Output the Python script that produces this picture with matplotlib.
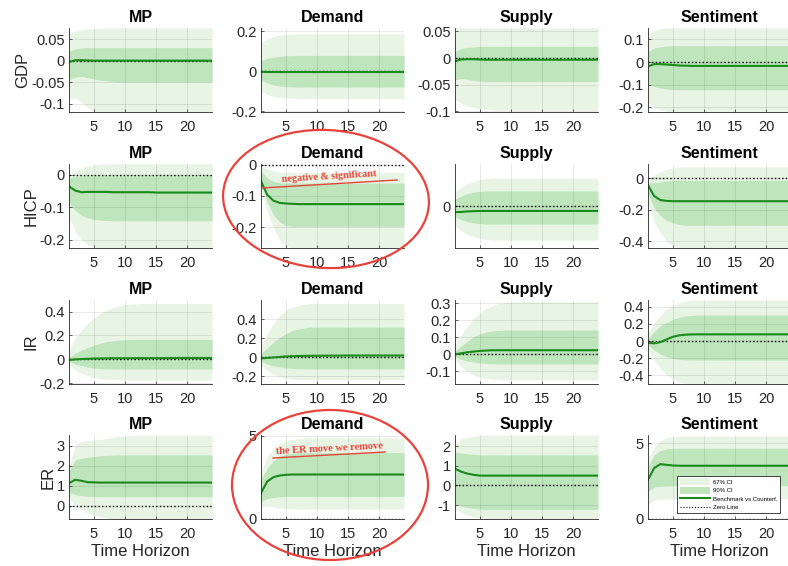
import matplotlib
matplotlib.use("Agg")
import matplotlib.pyplot as plt
from matplotlib.patches import Ellipse, Patch
from matplotlib.lines import Line2D

plt.rcParams['font.family'] = ['Liberation Sans', 'DejaVu Sans']
plt.rcParams['axes.unicode_minus'] = False

horizon = list(range(1, 25))
variables = ['GDP', 'HICP', 'IR', 'ER']
shocks = ['MP', 'Demand', 'Supply', 'Sentiment']

# Each block: [benchmark-vs-counterfactual, inner lower, inner upper, outer lower, outer upper]
gdp_mp = [
    [-0.003, 0.001, 0.001, 0.0005, 0.0, 0.0, 0.0, 0.0, 0.0, 0.0, 0.0, 0.0,
     0.0, 0.0, 0.0, 0.0, 0.0, 0.0, 0.0, 0.0, 0.0, 0.0, 0.0, 0.0],
    [-0.044, -0.038, -0.036, -0.039, -0.042, -0.045, -0.047, -0.048, -0.049, -0.049, -0.049, -0.049,
     -0.049, -0.049, -0.049, -0.049, -0.049, -0.049, -0.049, -0.049, -0.049, -0.049, -0.049, -0.049],
    [0.022, 0.027, 0.029, 0.030, 0.030, 0.030, 0.030, 0.030, 0.030, 0.030, 0.030, 0.030,
     0.030, 0.030, 0.030, 0.030, 0.030, 0.030, 0.030, 0.030, 0.030, 0.030, 0.030, 0.030],
    [-0.089, -0.086, -0.095, -0.108, -0.117, -0.119, -0.119, -0.119, -0.119, -0.119, -0.119, -0.119,
     -0.119, -0.119, -0.119, -0.119, -0.119, -0.119, -0.119, -0.119, -0.119, -0.119, -0.119, -0.119],
    [0.064, 0.068, 0.071, 0.073, 0.074, 0.075, 0.076, 0.076, 0.076, 0.076, 0.076, 0.076,
     0.076, 0.076, 0.076, 0.076, 0.076, 0.076, 0.076, 0.076, 0.076, 0.076, 0.076, 0.076],
]
gdp_demand = [
    [-0.002, -0.003, -0.003, -0.003, -0.003, -0.003, -0.003, -0.003, -0.003, -0.003, -0.003, -0.003,
     -0.003, -0.003, -0.003, -0.003, -0.003, -0.003, -0.003, -0.003, -0.003, -0.003, -0.003, -0.003],
    [-0.042, -0.058, -0.068, -0.073, -0.076, -0.077, -0.078, -0.078, -0.078, -0.078, -0.078, -0.078,
     -0.078, -0.078, -0.078, -0.078, -0.078, -0.078, -0.078, -0.078, -0.078, -0.078, -0.078, -0.078],
    [0.053, 0.065, 0.072, 0.076, 0.078, 0.079, 0.080, 0.080, 0.080, 0.080, 0.080, 0.080,
     0.080, 0.080, 0.080, 0.080, 0.080, 0.080, 0.080, 0.080, 0.080, 0.080, 0.080, 0.080],
    [-0.100, -0.115, -0.125, -0.130, -0.133, -0.135, -0.136, -0.136, -0.136, -0.136, -0.136, -0.136,
     -0.136, -0.136, -0.136, -0.136, -0.136, -0.136, -0.136, -0.136, -0.136, -0.136, -0.136, -0.136],
    [0.145, 0.163, 0.175, 0.182, 0.186, 0.187, 0.188, 0.188, 0.188, 0.188, 0.188, 0.188,
     0.188, 0.188, 0.188, 0.188, 0.188, 0.188, 0.188, 0.188, 0.188, 0.188, 0.188, 0.188],
]
gdp_supply = [
    [-0.006, -0.0025, -0.002, -0.002, -0.0025, -0.003, -0.003, -0.003, -0.003, -0.003, -0.003, -0.003,
     -0.003, -0.003, -0.003, -0.003, -0.003, -0.003, -0.003, -0.003, -0.003, -0.003, -0.003, -0.003],
    [-0.041, -0.038, -0.040, -0.042, -0.043, -0.044, -0.044, -0.044, -0.044, -0.044, -0.044, -0.044,
     -0.044, -0.044, -0.044, -0.044, -0.044, -0.044, -0.044, -0.044, -0.044, -0.044, -0.044, -0.044],
    [0.0125, 0.018, 0.020, 0.021, 0.022, 0.022, 0.022, 0.022, 0.022, 0.022, 0.022, 0.022,
     0.022, 0.022, 0.022, 0.022, 0.022, 0.022, 0.022, 0.022, 0.022, 0.022, 0.022, 0.022],
    [-0.078, -0.085, -0.090, -0.093, -0.095, -0.096, -0.097, -0.098, -0.098, -0.098, -0.098, -0.098,
     -0.098, -0.098, -0.098, -0.098, -0.098, -0.098, -0.098, -0.098, -0.098, -0.098, -0.098, -0.098],
    [0.057, 0.057, 0.057, 0.057, 0.057, 0.057, 0.057, 0.057, 0.057, 0.057, 0.057, 0.057,
     0.057, 0.057, 0.057, 0.057, 0.057, 0.057, 0.057, 0.057, 0.057, 0.057, 0.057, 0.057],
]
gdp_sentiment = [
    [-0.019, -0.009, -0.009, -0.011, -0.013, -0.015, -0.016, -0.017, -0.017, -0.017, -0.017, -0.017,
     -0.017, -0.017, -0.017, -0.017, -0.017, -0.017, -0.017, -0.017, -0.017, -0.017, -0.017, -0.017],
    [-0.093, -0.108, -0.115, -0.119, -0.121, -0.122, -0.122, -0.122, -0.122, -0.122, -0.122, -0.122,
     -0.122, -0.122, -0.122, -0.122, -0.122, -0.122, -0.122, -0.122, -0.122, -0.122, -0.122, -0.122],
    [0.047, 0.062, 0.068, 0.071, 0.072, 0.072, 0.072, 0.072, 0.072, 0.072, 0.072, 0.072,
     0.072, 0.072, 0.072, 0.072, 0.072, 0.072, 0.072, 0.072, 0.072, 0.072, 0.072, 0.072],
    [-0.181, -0.200, -0.210, -0.218, -0.221, -0.221, -0.221, -0.221, -0.221, -0.221, -0.221, -0.221,
     -0.221, -0.221, -0.221, -0.221, -0.221, -0.221, -0.221, -0.221, -0.221, -0.221, -0.221, -0.221],
    [0.128, 0.140, 0.147, 0.151, 0.151, 0.151, 0.151, 0.151, 0.151, 0.151, 0.151, 0.151,
     0.151, 0.151, 0.151, 0.151, 0.151, 0.151, 0.151, 0.151, 0.151, 0.151, 0.151, 0.151],
]
hicp_mp = [
    [-0.036, -0.049, -0.054, -0.053, -0.053, -0.053, -0.053, -0.054, -0.054, -0.054, -0.054, -0.054,
     -0.054, -0.054, -0.055, -0.055, -0.055, -0.055, -0.055, -0.055, -0.055, -0.055, -0.055, -0.055],
    [-0.087, -0.110, -0.125, -0.133, -0.138, -0.140, -0.141, -0.142, -0.142, -0.142, -0.142, -0.142,
     -0.142, -0.142, -0.142, -0.142, -0.142, -0.142, -0.142, -0.142, -0.142, -0.142, -0.142, -0.142],
    [-0.010, -0.005, -0.003, -0.002, -0.001, -0.001, -0.001, -0.001, -0.001, -0.001, -0.001, -0.001,
     -0.001, -0.001, -0.001, -0.001, -0.001, -0.001, -0.001, -0.001, -0.001, -0.001, -0.001, -0.001],
    [-0.133, -0.175, -0.200, -0.215, -0.222, -0.227, -0.227, -0.227, -0.227, -0.227, -0.227, -0.227,
     -0.227, -0.227, -0.227, -0.227, -0.227, -0.227, -0.227, -0.227, -0.227, -0.227, -0.227, -0.227],
    [-0.008, 0.010, 0.020, 0.026, 0.030, 0.032, 0.034, 0.034, 0.034, 0.034, 0.034, 0.034,
     0.034, 0.034, 0.034, 0.034, 0.034, 0.034, 0.034, 0.034, 0.034, 0.034, 0.034, 0.034],
]
hicp_demand = [
    [-0.053, -0.096, -0.115, -0.122, -0.124, -0.125, -0.126, -0.126, -0.126, -0.126, -0.126, -0.126,
     -0.126, -0.126, -0.126, -0.126, -0.126, -0.126, -0.126, -0.126, -0.126, -0.126, -0.126, -0.126],
    [-0.064, -0.117, -0.160, -0.183, -0.194, -0.197, -0.197, -0.197, -0.197, -0.197, -0.197, -0.197,
     -0.197, -0.197, -0.197, -0.197, -0.197, -0.197, -0.197, -0.197, -0.197, -0.197, -0.197, -0.197],
    [-0.021, -0.043, -0.053, -0.058, -0.059, -0.059, -0.059, -0.059, -0.059, -0.059, -0.059, -0.059,
     -0.059, -0.059, -0.059, -0.059, -0.059, -0.059, -0.059, -0.059, -0.059, -0.059, -0.059, -0.059],
    [-0.070, -0.150, -0.202, -0.239, -0.260, -0.267, -0.267, -0.267, -0.267, -0.267, -0.267, -0.267,
     -0.267, -0.267, -0.267, -0.267, -0.267, -0.267, -0.267, -0.267, -0.267, -0.267, -0.267, -0.267],
    [-0.005, -0.013, -0.019, -0.023, -0.024, -0.025, -0.025, -0.025, -0.025, -0.025, -0.025, -0.025,
     -0.025, -0.025, -0.025, -0.025, -0.025, -0.025, -0.025, -0.025, -0.025, -0.025, -0.025, -0.025],
]
hicp_supply = [
    [-0.025, -0.024, -0.022, -0.021, -0.020, -0.020, -0.020, -0.020, -0.020, -0.020, -0.020, -0.020,
     -0.020, -0.020, -0.020, -0.020, -0.020, -0.020, -0.020, -0.020, -0.020, -0.020, -0.020, -0.020],
    [-0.045, -0.055, -0.063, -0.068, -0.071, -0.073, -0.073, -0.073, -0.073, -0.073, -0.073, -0.073,
     -0.073, -0.073, -0.073, -0.073, -0.073, -0.073, -0.073, -0.073, -0.073, -0.073, -0.073, -0.073],
    [0.028, 0.040, 0.050, 0.056, 0.060, 0.061, 0.061, 0.061, 0.061, 0.061, 0.061, 0.061,
     0.061, 0.061, 0.061, 0.061, 0.061, 0.061, 0.061, 0.061, 0.061, 0.061, 0.061, 0.061],
    [-0.081, -0.100, -0.115, -0.125, -0.130, -0.135, -0.138, -0.138, -0.138, -0.138, -0.138, -0.138,
     -0.138, -0.138, -0.138, -0.138, -0.138, -0.138, -0.138, -0.138, -0.138, -0.138, -0.138, -0.138],
    [0.057, 0.075, 0.090, 0.100, 0.107, 0.111, 0.113, 0.113, 0.113, 0.113, 0.113, 0.113,
     0.113, 0.113, 0.113, 0.113, 0.113, 0.113, 0.113, 0.113, 0.113, 0.113, 0.113, 0.113],
]
hicp_sentiment = [
    [-0.045, -0.115, -0.140, -0.145, -0.147, -0.147, -0.147, -0.147, -0.147, -0.147, -0.147, -0.147,
     -0.147, -0.147, -0.147, -0.147, -0.147, -0.147, -0.147, -0.147, -0.147, -0.147, -0.147, -0.147],
    [-0.100, -0.190, -0.240, -0.270, -0.285, -0.295, -0.300, -0.300, -0.300, -0.300, -0.300, -0.300,
     -0.300, -0.300, -0.300, -0.300, -0.300, -0.300, -0.300, -0.300, -0.300, -0.300, -0.300, -0.300],
    [-0.030, -0.030, -0.025, -0.020, -0.017, -0.015, -0.015, -0.015, -0.015, -0.015, -0.015, -0.015,
     -0.015, -0.015, -0.015, -0.015, -0.015, -0.015, -0.015, -0.015, -0.015, -0.015, -0.015, -0.015],
    [-0.170, -0.280, -0.350, -0.400, -0.430, -0.445, -0.445, -0.445, -0.445, -0.445, -0.445, -0.445,
     -0.445, -0.445, -0.445, -0.445, -0.445, -0.445, -0.445, -0.445, -0.445, -0.445, -0.445, -0.445],
    [-0.005, 0.020, 0.040, 0.055, 0.065, 0.070, 0.070, 0.070, 0.070, 0.070, 0.070, 0.070,
     0.070, 0.070, 0.070, 0.070, 0.070, 0.070, 0.070, 0.070, 0.070, 0.070, 0.070, 0.070],
]
ir_mp = [
    [-0.005, 0.000, 0.003, 0.005, 0.007, 0.008, 0.009, 0.010, 0.010, 0.010, 0.010, 0.011,
     0.011, 0.011, 0.011, 0.011, 0.011, 0.012, 0.012, 0.012, 0.012, 0.012, 0.012, 0.012],
    [-0.017, -0.039, -0.053, -0.064, -0.072, -0.078, -0.080, -0.081, -0.081, -0.081, -0.081, -0.081,
     -0.081, -0.081, -0.081, -0.081, -0.081, -0.081, -0.081, -0.081, -0.081, -0.081, -0.081, -0.081],
    [0.017, 0.050, 0.078, 0.098, 0.120, 0.134, 0.148, 0.156, 0.162, 0.165, 0.167, 0.167,
     0.167, 0.167, 0.167, 0.167, 0.167, 0.167, 0.167, 0.167, 0.167, 0.167, 0.167, 0.167],
    [-0.047, -0.089, -0.117, -0.137, -0.150, -0.162, -0.167, -0.170, -0.172, -0.173, -0.173, -0.173,
     -0.173, -0.173, -0.173, -0.173, -0.173, -0.173, -0.173, -0.173, -0.173, -0.173, -0.173, -0.173],
    [0.078, 0.176, 0.245, 0.300, 0.349, 0.385, 0.413, 0.432, 0.446, 0.457, 0.463, 0.466,
     0.469, 0.469, 0.469, 0.469, 0.469, 0.469, 0.469, 0.469, 0.469, 0.469, 0.469, 0.469],
]
ir_demand = [
    [-0.010, -0.005, 0.000, 0.005, 0.010, 0.013, 0.015, 0.016, 0.017, 0.018, 0.018, 0.019,
     0.019, 0.019, 0.020, 0.020, 0.020, 0.020, 0.020, 0.020, 0.020, 0.020, 0.020, 0.020],
    [-0.040, -0.070, -0.090, -0.100, -0.110, -0.115, -0.120, -0.120, -0.120, -0.120, -0.120, -0.120,
     -0.120, -0.120, -0.120, -0.120, -0.120, -0.120, -0.120, -0.120, -0.120, -0.120, -0.120, -0.120],
    [0.040, 0.100, 0.160, 0.210, 0.250, 0.280, 0.300, 0.310, 0.320, 0.320, 0.320, 0.320,
     0.320, 0.320, 0.320, 0.320, 0.320, 0.320, 0.320, 0.320, 0.320, 0.320, 0.320, 0.320],
    [-0.080, -0.140, -0.180, -0.200, -0.220, -0.230, -0.235, -0.235, -0.235, -0.235, -0.235, -0.235,
     -0.235, -0.235, -0.235, -0.235, -0.235, -0.235, -0.235, -0.235, -0.235, -0.235, -0.235, -0.235],
    [0.120, 0.250, 0.360, 0.440, 0.500, 0.530, 0.550, 0.560, 0.570, 0.570, 0.570, 0.570,
     0.570, 0.570, 0.570, 0.570, 0.570, 0.570, 0.570, 0.570, 0.570, 0.570, 0.570, 0.570],
]
ir_supply = [
    [0.000, 0.006, 0.012, 0.016, 0.020, 0.022, 0.024, 0.024, 0.024, 0.024, 0.024, 0.024,
     0.024, 0.024, 0.024, 0.024, 0.024, 0.024, 0.024, 0.024, 0.024, 0.024, 0.024, 0.024],
    [-0.014, -0.029, -0.039, -0.045, -0.051, -0.054, -0.056, -0.057, -0.057, -0.057, -0.057, -0.057,
     -0.057, -0.057, -0.057, -0.057, -0.057, -0.057, -0.057, -0.057, -0.057, -0.057, -0.057, -0.057],
    [0.020, 0.049, 0.078, 0.104, 0.120, 0.131, 0.137, 0.141, 0.143, 0.143, 0.143, 0.143,
     0.143, 0.143, 0.143, 0.143, 0.143, 0.143, 0.143, 0.143, 0.143, 0.143, 0.143, 0.143],
    [-0.029, -0.073, -0.102, -0.122, -0.135, -0.143, -0.147, -0.150, -0.151, -0.151, -0.151, -0.151,
     -0.151, -0.151, -0.151, -0.151, -0.151, -0.151, -0.151, -0.151, -0.151, -0.151, -0.151, -0.151],
    [0.055, 0.114, 0.167, 0.212, 0.245, 0.270, 0.286, 0.298, 0.304, 0.308, 0.308, 0.308,
     0.308, 0.308, 0.308, 0.308, 0.308, 0.308, 0.308, 0.308, 0.308, 0.308, 0.308, 0.308],
]
ir_sentiment = [
    [-0.019, -0.027, -0.012, 0.019, 0.050, 0.066, 0.074, 0.077, 0.078, 0.078, 0.078, 0.078,
     0.078, 0.078, 0.078, 0.078, 0.078, 0.078, 0.078, 0.078, 0.078, 0.078, 0.078, 0.078],
    [-0.047, -0.105, -0.151, -0.183, -0.202, -0.214, -0.219, -0.221, -0.221, -0.221, -0.221, -0.221,
     -0.221, -0.221, -0.221, -0.221, -0.221, -0.221, -0.221, -0.221, -0.221, -0.221, -0.221, -0.221],
    [0.031, 0.109, 0.175, 0.217, 0.252, 0.276, 0.291, 0.300, 0.303, 0.303, 0.303, 0.303,
     0.303, 0.303, 0.303, 0.303, 0.303, 0.303, 0.303, 0.303, 0.303, 0.303, 0.303, 0.303],
    [-0.105, -0.221, -0.318, -0.396, -0.447, -0.478, -0.495, -0.500, -0.500, -0.500, -0.500, -0.500,
     -0.500, -0.500, -0.500, -0.500, -0.500, -0.500, -0.500, -0.500, -0.500, -0.500, -0.500, -0.500],
    [0.089, 0.206, 0.303, 0.373, 0.419, 0.450, 0.466, 0.475, 0.478, 0.478, 0.478, 0.478,
     0.478, 0.478, 0.478, 0.478, 0.478, 0.478, 0.478, 0.478, 0.478, 0.478, 0.478, 0.478],
]
er_mp = [
    [1.13, 1.30, 1.25, 1.18, 1.17, 1.16, 1.16, 1.16, 1.16, 1.16, 1.16, 1.16,
     1.16, 1.16, 1.16, 1.16, 1.16, 1.16, 1.16, 1.16, 1.16, 1.16, 1.16, 1.16],
    [0.67, 0.55, 0.50, 0.47, 0.46, 0.45, 0.45, 0.45, 0.45, 0.45, 0.45, 0.45,
     0.45, 0.45, 0.45, 0.45, 0.45, 0.45, 0.45, 0.45, 0.45, 0.45, 0.45, 0.45],
    [1.72, 2.30, 2.38, 2.43, 2.47, 2.50, 2.52, 2.54, 2.55, 2.55, 2.55, 2.55,
     2.55, 2.55, 2.55, 2.55, 2.55, 2.55, 2.55, 2.55, 2.55, 2.55, 2.55, 2.55],
    [0.38, 0.00, -0.20, -0.37, -0.48, -0.57, -0.62, -0.66, -0.67, -0.67, -0.67, -0.67,
     -0.67, -0.67, -0.67, -0.67, -0.67, -0.67, -0.67, -0.67, -0.67, -0.67, -0.67, -0.67],
    [1.97, 3.05, 3.22, 3.27, 3.30, 3.33, 3.38, 3.43, 3.47, 3.50, 3.52, 3.54,
     3.54, 3.54, 3.54, 3.54, 3.54, 3.54, 3.54, 3.54, 3.54, 3.54, 3.54, 3.54],
]
er_demand = [
    [1.56, 2.26, 2.52, 2.62, 2.66, 2.68, 2.68, 2.68, 2.68, 2.68, 2.68, 2.68,
     2.68, 2.68, 2.68, 2.68, 2.68, 2.68, 2.68, 2.68, 2.68, 2.68, 2.68, 2.68],
    [1.06, 1.22, 1.30, 1.34, 1.36, 1.36, 1.36, 1.36, 1.36, 1.36, 1.36, 1.36,
     1.36, 1.36, 1.36, 1.36, 1.36, 1.36, 1.36, 1.36, 1.36, 1.36, 1.36, 1.36],
    [2.36, 3.06, 3.50, 3.76, 3.90, 3.96, 4.00, 4.00, 4.00, 4.00, 4.00, 4.00,
     4.00, 4.00, 4.00, 4.00, 4.00, 4.00, 4.00, 4.00, 4.00, 4.00, 4.00, 4.00],
    [0.72, 0.76, 0.72, 0.66, 0.62, 0.60, 0.60, 0.60, 0.60, 0.60, 0.60, 0.60,
     0.60, 0.60, 0.60, 0.60, 0.60, 0.60, 0.60, 0.60, 0.60, 0.60, 0.60, 0.60],
    [2.86, 3.76, 4.26, 4.56, 4.72, 4.80, 4.84, 4.88, 4.88, 4.88, 4.88, 4.88,
     4.88, 4.88, 4.88, 4.88, 4.88, 4.88, 4.88, 4.88, 4.88, 4.88, 4.88, 4.88],
]
er_supply = [
    [0.85, 0.70, 0.60, 0.54, 0.50, 0.50, 0.50, 0.50, 0.50, 0.50, 0.50, 0.50,
     0.50, 0.50, 0.50, 0.50, 0.50, 0.50, 0.50, 0.50, 0.50, 0.50, 0.50, 0.50],
    [-0.95, -1.05, -1.12, -1.17, -1.20, -1.22, -1.22, -1.22, -1.22, -1.22, -1.22, -1.22,
     -1.22, -1.22, -1.22, -1.22, -1.22, -1.22, -1.22, -1.22, -1.22, -1.22, -1.22, -1.22],
    [1.70, 1.65, 1.60, 1.58, 1.55, 1.55, 1.55, 1.55, 1.55, 1.55, 1.55, 1.55,
     1.55, 1.55, 1.55, 1.55, 1.55, 1.55, 1.55, 1.55, 1.55, 1.55, 1.55, 1.55],
    [-1.10, -1.35, -1.50, -1.60, -1.65, -1.70, -1.70, -1.70, -1.70, -1.70, -1.70, -1.70,
     -1.70, -1.70, -1.70, -1.70, -1.70, -1.70, -1.70, -1.70, -1.70, -1.70, -1.70, -1.70],
    [2.10, 2.35, 2.45, 2.50, 2.55, 2.55, 2.55, 2.55, 2.55, 2.55, 2.55, 2.55,
     2.55, 2.55, 2.55, 2.55, 2.55, 2.55, 2.55, 2.55, 2.55, 2.55, 2.55, 2.55],
]
er_sentiment = [
    [2.59, 3.36, 3.62, 3.57, 3.53, 3.51, 3.51, 3.51, 3.51, 3.51, 3.51, 3.51,
     3.51, 3.51, 3.51, 3.51, 3.51, 3.51, 3.51, 3.51, 3.51, 3.51, 3.51, 3.51],
    [1.82, 2.10, 2.15, 2.17, 2.19, 2.19, 2.19, 2.19, 2.19, 2.19, 2.19, 2.19,
     2.19, 2.19, 2.19, 2.19, 2.19, 2.19, 2.19, 2.19, 2.19, 2.19, 2.19, 2.19],
    [3.46, 4.23, 4.52, 4.63, 4.67, 4.67, 4.67, 4.67, 4.67, 4.67, 4.67, 4.67,
     4.67, 4.67, 4.67, 4.67, 4.67, 4.67, 4.67, 4.67, 4.67, 4.67, 4.67, 4.67],
    [0.94, 1.23, 1.27, 1.29, 1.31, 1.33, 1.34, 1.34, 1.34, 1.34, 1.34, 1.34,
     1.34, 1.34, 1.34, 1.34, 1.34, 1.34, 1.34, 1.34, 1.34, 1.34, 1.34, 1.34],
    [3.90, 4.78, 5.18, 5.37, 5.44, 5.48, 5.48, 5.48, 5.48, 5.48, 5.48, 5.48,
     5.48, 5.48, 5.48, 5.48, 5.48, 5.48, 5.48, 5.48, 5.48, 5.48, 5.48, 5.48],
]

irfs = [
    [gdp_mp, gdp_demand, gdp_supply, gdp_sentiment],
    [hicp_mp, hicp_demand, hicp_supply, hicp_sentiment],
    [ir_mp, ir_demand, ir_supply, ir_sentiment],
    [er_mp, er_demand, er_supply, er_sentiment],
]

y_ticks = [
    [[-0.1, -0.05, 0, 0.05], [-0.2, 0, 0.2], [-0.1, -0.05, 0, 0.05], [-0.2, -0.1, 0, 0.1]],
    [[-0.2, -0.1, 0], [-0.2, -0.1, 0], [0], [-0.4, -0.2, 0]],
    [[-0.2, 0, 0.2, 0.4], [-0.2, 0, 0.2, 0.4], [-0.1, 0, 0.1, 0.2, 0.3], [-0.4, -0.2, 0, 0.2, 0.4]],
    [[0, 1, 2, 3], [0, 5], [-1, 0, 1, 2], [0, 5]],
]
y_limits = [
    [(-0.1185, 0.0754), (-0.203, 0.217), (-0.101, 0.0565), (-0.22, 0.15)],
    [(-0.226, 0.033), (-0.266, 0.002), (-0.17, 0.17), (-0.444, 0.089)],
    [(-0.206, 0.497), (-0.28, 0.605), (-0.175, 0.32), (-0.50, 0.478)],
    [(-0.67, 3.55), (0.0, 5.06), (-1.7, 2.56), (-0.02, 5.55)],
]
x_ticks = [5, 10, 15, 20]

OUTER = '#e8f5e5'
INNER = '#bee5bc'
LINE = '#1a8a1a'
TXT = '#262626'
RED = '#e8433a'

W, H = 788, 566
fig = plt.figure(figsize=(W / 100, H / 100), dpi=100)

col_left = [69, 261, 455, 648]
row_top = [28, 164, 300, 435]
aw, ah = 143, 84

axes = {}
for i, var in enumerate(variables):
    for j, shock in enumerate(shocks):
        ax = fig.add_axes([col_left[j] / W, 1 - (row_top[i] + ah) / H, aw / W, ah / H])
        axes[(i, j)] = ax
        med, lo_in, hi_in, lo_out, hi_out = irfs[i][j]
        ax.fill_between(horizon, lo_out, hi_out, color=OUTER, lw=0, zorder=1)
        ax.fill_between(horizon, lo_in, hi_in, color=INNER, lw=0, zorder=2)
        ax.plot([horizon[0], horizon[-1]], [0, 0], color='black', ls=(0, (1, 1.6)), lw=1.0, zorder=4)
        ax.plot(horizon, med, color=LINE, lw=1.5, zorder=5)

        ax.set_xlim(1, 24)
        ax.set_ylim(*y_limits[i][j])
        ax.set_xticks(x_ticks)
        ax.set_xticklabels([f"{t:g}" for t in x_ticks])
        ax.set_yticks(y_ticks[i][j])
        ax.set_yticklabels([f"{t:g}" for t in y_ticks[i][j]])
        ax.grid(True, color='black', alpha=0.10, lw=0.6)
        ax.set_axisbelow(False)
        for s in ('top', 'right'):
            ax.spines[s].set_visible(False)
        for s in ('left', 'bottom'):
            ax.spines[s].set_color(TXT)
            ax.spines[s].set_linewidth(0.6)
            ax.spines[s].set_zorder(6)
        ax.tick_params(direction='in', length=2.5, width=0.5, colors=TXT,
                       labelsize=10.5, labelcolor=TXT)
        ax.tick_params(axis='x', pad=6)
        ax.tick_params(axis='y', pad=3)
        ax.set_title(shock, fontsize=11.5, fontweight='bold', pad=4.5, color='black')
        if j == 0:
            ax.set_ylabel(var, fontsize=12, color=TXT, labelpad=1)
        if i == len(variables) - 1:
            ax.set_xlabel('Time Horizon', fontsize=12, color=TXT, labelpad=2)

# legend in the last panel
handles = [
    Patch(facecolor=OUTER, edgecolor='none', label='67% CI'),
    Patch(facecolor=INNER, edgecolor='none', label='90% CI'),
    Line2D([], [], color=LINE, lw=1.5, label='Benchmark vs Counterf.'),
    Line2D([], [], color='black', ls=(0, (1, 1.6)), lw=0.8, label='Zero Line'),
]
leg = axes[(3, 3)].legend(handles=handles, loc='upper left', bbox_to_anchor=(0.205, 0.515),
                          fontsize=4.3, frameon=True, fancybox=False, framealpha=1,
                          edgecolor=TXT, handlelength=5.0, handleheight=1.3,
                          borderpad=0.45, labelspacing=0.35, handletextpad=0.5,
                          borderaxespad=0)
leg.get_frame().set_linewidth(0.6)
leg.set_zorder(10)

# hand-drawn red highlights
ov = fig.add_axes([0, 0, 1, 1], facecolor='none')
ov.set_xlim(0, W)
ov.set_ylim(H, 0)
ov.axis('off')
ov.set_zorder(20)
ov.add_patch(Ellipse((326, 199), 206, 138, angle=3, fill=False, ec=RED, lw=1.6))
ov.add_patch(Ellipse((330, 485), 196, 150, angle=0, fill=False, ec=RED, lw=1.6))
ov.text(329, 177, 'negative & significant', color=RED, fontsize=7.3, fontweight='bold',
        family=['Liberation Serif', 'DejaVu Serif'], ha='center', va='center', rotation=3.5)
ov.plot([262, 397], [188, 180], color=RED, lw=1.0)
ov.text(329, 449, 'the ER move we remove', color=RED, fontsize=7.5, fontweight='bold',
        family=['Liberation Serif', 'DejaVu Serif'], ha='center', va='center', rotation=3)
ov.plot([273, 385], [458, 452], color=RED, lw=1.0)

fig.savefig('out.png', dpi=100)
